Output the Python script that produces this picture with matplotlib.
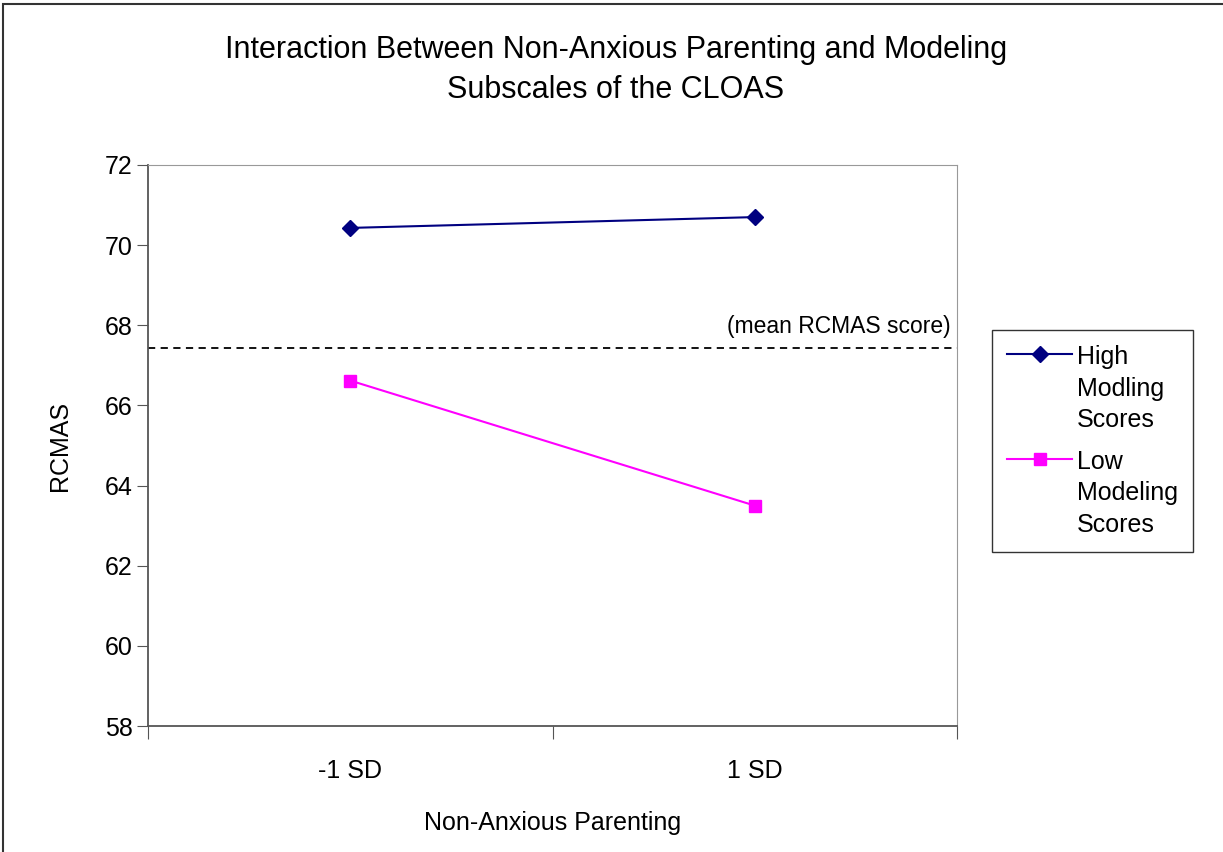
import matplotlib.pyplot as plt
from matplotlib.patches import Rectangle
from matplotlib.legend_handler import HandlerLine2D

plt.rcParams['font.family'] = ['Liberation Sans', 'DejaVu Sans']

categories = ['-1 SD', '1 SD']
high_modeling = [70.43, 70.70]
low_modeling = [66.62, 63.50]
mean_rcmas = 67.43
series_labels = ['High\nModling\nScores', 'Low\nModeling\nScores']


# legend marker sits next to the first text line, like Excel does
class HandlerFirstLine(HandlerLine2D):
    def create_artists(self, legend, orig_handle, xdescent, ydescent,
                       width, height, fontsize, trans):
        artists = super().create_artists(legend, orig_handle, xdescent, ydescent,
                                         width, height, fontsize, trans)
        for a in artists:
            a.set_ydata([y + 1.4 * fontsize for y in a.get_ydata()])
        return artists


fig = plt.figure(figsize=(12.23, 8.52), dpi=100)

# outer chart frame (cut off at the right and bottom in the original)
fig.patches.append(Rectangle((3 / 1223, -0.01), 1.05, 1 - 4 / 852 + 0.01,
                             transform=fig.transFigure, fill=False,
                             edgecolor='#333333', linewidth=1.5))

ax = fig.add_axes([148 / 1223, 1 - 726 / 852, (957 - 148) / 1223, (726 - 165) / 852])

x = [0.5, 1.5]
ax.plot(x, high_modeling, color='#000080', marker='D', markersize=8,
        linewidth=1.5, label=series_labels[0])
ax.plot(x, low_modeling, color='#FF00FF', marker='s', markersize=8,
        linewidth=1.5, label=series_labels[1])
ax.axhline(mean_rcmas, color='black', linestyle=(0, (4, 3)), linewidth=1.3)
ax.text(1.985, mean_rcmas + 0.25, '(mean RCMAS score)', ha='right', va='bottom',
        fontsize=16.5)

ax.set_xlim(0, 2)
ax.set_ylim(58, 72)
ax.set_yticks(range(58, 73, 2))
ax.set_xticks([0, 1, 2])
ax.set_xticklabels([])
ax.set_xticks(x, minor=True)
ax.set_xticklabels(categories, minor=True, fontsize=18)
ax.tick_params(axis='x', which='minor', length=0, pad=24)
ax.tick_params(axis='x', which='major', length=9, color='#555555')
ax.tick_params(axis='y', length=8, labelsize=18, color='#555555', pad=3)

for side in ['top', 'right']:
    ax.spines[side].set_color('#999999')
for side in ['left', 'bottom']:
    ax.spines[side].set_color('#555555')
    ax.spines[side].set_linewidth(1.3)

ax.set_ylabel('RCMAS', fontsize=18, labelpad=24)
ax.set_xlabel('Non-Anxious Parenting', fontsize=18, labelpad=20)

fig.text(616 / 1223, 1 - 70 / 852,
         'Interaction Between Non-Anxious Parenting and Modeling\nSubscales of the CLOAS',
         ha='center', va='center', fontsize=22, linespacing=1.45)

leg = ax.legend(loc='upper left', bbox_to_anchor=(992 / 1223, 1 - 330 / 852),
                bbox_transform=fig.transFigure, fontsize=18, frameon=True,
                fancybox=False, edgecolor='black', handlelength=2.6,
                handletextpad=0.2, labelspacing=0.7, borderpad=0.6,
                borderaxespad=0,
                handler_map={plt.Line2D: HandlerFirstLine()})
for t in leg.get_texts():
    t.set_linespacing(1.4)
leg.get_frame().set_linewidth(1.0)

fig.savefig('out.png', dpi=100)
